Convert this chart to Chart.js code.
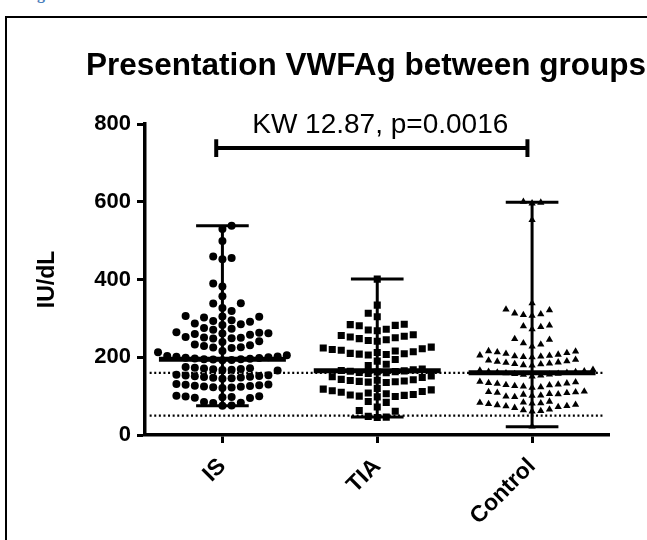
<!DOCTYPE html>
<html><head><meta charset="utf-8">
<script src="https://cdn.jsdelivr.net/npm/chart.js@4/dist/chart.umd.min.js"></script>
<style>
html,body{margin:0;padding:0;background:#fff;overflow:hidden}
#wrap{position:relative;width:647px;height:540px;overflow:hidden}
#frame{position:absolute;left:5px;top:16px;width:700px;height:600px;border:2px solid #000;box-sizing:border-box}
#cap{position:absolute;left:37px;top:-14px;font:bold 16px "Liberation Serif";color:#4a7ebb;line-height:16px}
canvas{position:absolute;left:0;top:0}
</style></head><body>
<div id="wrap"><div id="cap">g</div><div id="frame"></div><canvas id="c" width="647" height="540"></canvas></div>
<script>
const titleText = 'Presentation VWFAg between groups';
const yTitle = 'IU/dL';
const kwText = 'KW 12.87, p=0.0016';
const categories = ['IS', 'TIA', 'Control'];
const yTicks = [0, 200, 400, 600, 800];

const isValues = [538, 530, 499, 459, 455, 452, 390, 382, 357, 339, 338, 327, 319,
  306, 305, 304, 302, 295, 293, 291, 287, 285, 283, 275, 273, 271,
  264, 263, 262, 261, 260, 258, 252, 251, 250, 249, 248, 241, 239,
  233, 231, 229, 226, 225, 224, 216, 213,
  205, 203, 202, 201, 200, 199, 198, 197, 196, 195, 195, 194, 193, 192,
  175, 173, 172, 171, 170, 169, 168, 167, 166,
  155, 154, 153, 152, 151, 150, 149, 148, 147, 146, 145,
  131, 130, 129, 128, 127, 126, 125, 124, 123, 122, 121,
  101, 100, 99, 98, 97, 96, 95, 85, 83, 82, 76, 75];

const tiaValues = [401, 334, 313, 304, 285, 284, 282, 281, 272, 270, 268,
  258, 256, 254, 252, 250, 248, 245, 243, 241,
  226, 224, 222, 220, 218, 216, 214, 212, 210, 209, 208, 207, 206,
  194, 190, 182, 179,
  170, 168, 166, 165, 164, 163, 162, 161, 160, 158,
  152, 150, 148,
  143, 142, 141, 140, 139, 138, 137, 136, 135,
  120, 118, 116, 114, 112, 110, 108, 106, 104, 103, 102, 100, 99, 98,
  86, 84, 72, 63, 61, 48, 46, 45];

const controlValues = [600, 598, 596, 553, 339, 323, 321, 313, 311, 309, 307,
  282, 280, 278, 272, 247, 245, 236, 233, 228,
  216, 215, 213, 211, 209, 207, 205, 204, 203, 202, 201, 200,
  194, 192, 190, 189, 187, 186, 184, 183, 182, 180, 179,
  168, 166, 164, 163, 162, 161, 160, 159, 158, 157, 156, 155, 153, 151,
  137, 136, 134, 133, 132, 130, 129, 128, 126, 125, 123, 122,
  112, 111, 110, 109, 108, 106, 105, 104, 102, 101, 99, 98,
  86, 84, 83, 82, 81, 80, 78, 77, 75, 74, 72, 70,
  66, 64, 62, 61, 22];

const medians = [195, 165, 160];
const mins = [75, 46, 21];
const maxs = [538, 401, 599];
const refLines = [160, 50];
const bracketValue = 738;
const bracketEnd = 23;

const groups = [isValues, tiaValues, controlValues];
const pointStyles = ['circle', 'rect', 'triangle'];
const pointRadii = [4, 5, 4.2];
const FONT = '"Liberation Sans", Arial, sans-serif';

const datasets = [];
const lineDs = (data, width, dash) => ({
  type: 'scatter', data, showLine: true, pointRadius: 0, borderColor: '#000',
  backgroundColor: '#000', borderWidth: width, borderDash: dash || [], borderCapStyle: 'butt',
  borderJoinStyle: 'miter', tension: 0, order: 0
});
groups.forEach((g, i) => {
  datasets.push(lineDs([{x: i - 0.41, y: medians[i]}, {x: i + 0.41, y: medians[i]}], 5));
  datasets.push(lineDs([{x: i, y: mins[i]}, {x: i, y: maxs[i]}], 3));
  datasets.push(lineDs([{x: i - 0.17, y: maxs[i]}, {x: i + 0.17, y: maxs[i]}], 3));
  datasets.push(lineDs([{x: i - 0.17, y: mins[i]}, {x: i + 0.17, y: mins[i]}], 3));
});
refLines.forEach(v => datasets.push(lineDs([{x: -0.47, y: v}, {x: 2.47, y: v}], 2.2, [2, 2.6])));
datasets.push(lineDs([
  {x: -0.04, y: bracketValue + bracketEnd}, {x: -0.04, y: bracketValue - bracketEnd},
  {x: -0.04, y: bracketValue}, {x: 1.97, y: bracketValue},
  {x: 1.97, y: bracketValue + bracketEnd}, {x: 1.97, y: bracketValue - bracketEnd}], 4));
const pointStart = datasets.length;
groups.forEach((g, i) => {
  datasets.push({
    type: 'scatter', data: g.map(v => ({x: i, y: v})),
    pointStyle: pointStyles[i], pointRadius: pointRadii[i], pointBackgroundColor: '#000',
    pointBorderColor: '#000', pointBorderWidth: 0, order: 1
  });
});

const textPlugin = {
  id: 'texts',
  afterDraw(chart) {
    const ctx = chart.ctx, xs = chart.scales.x, ys = chart.scales.y;
    ctx.save();
    ctx.fillStyle = '#000';
    ctx.textAlign = 'center';
    ctx.textBaseline = 'alphabetic';
    ctx.font = 'bold 31.5px ' + FONT;
    ctx.fillText(titleText, 366, 75);
    ctx.font = '28px ' + FONT;
    ctx.fillText(kwText, xs.getPixelForValue(1) + 3, ys.getPixelForValue(bracketValue) - 15);
    ctx.restore();
  }
};

const axisCommon = {
  border: {display: true, color: '#000', width: 3.5},
  grid: {display: true, drawOnChartArea: false, drawTicks: true, tickLength: 8, tickWidth: 3, tickColor: '#000', color: '#000'}
};

const chart = new Chart(document.getElementById('c'), {
  type: 'scatter',
  data: {datasets},
  plugins: [textPlugin],
  options: {
    responsive: false, animation: false, devicePixelRatio: 1,
    layout: {padding: {top: 124, right: 37.5, left: 0, bottom: 0}},
    plugins: {legend: {display: false}, tooltip: {enabled: false}, title: {display: false}},
    scales: {
      x: Object.assign({}, axisCommon, {
        type: 'linear', min: -0.5, max: 2.5,
        afterBuildTicks: s => { s.ticks = categories.map((c, i) => ({value: i})); },
        afterFit: s => { s.height = 105; },
        ticks: {autoSkip: false, minRotation: 45, maxRotation: 45, padding: 10, color: '#000',
          font: {family: FONT, size: 23, weight: 'bold'}, callback: v => categories[v]}
      }),
      y: Object.assign({}, axisCommon, {
        min: 0, max: 800,
        afterBuildTicks: s => { s.ticks = yTicks.map(v => ({value: v})); },
        afterFit: s => { s.width = 145; },
        ticks: {padding: 6, color: '#000', font: {family: FONT, size: 22, weight: 'bold'}},
        title: {display: true, text: yTitle, color: '#000', font: {family: FONT, size: 23, weight: 'bold'}, padding: {top: 34, bottom: 0}}
      })
    }
  }
});

// beeswarm layout: each value goes to the most central free column slot,
// computed from the values through the chart's own scales
const spacingPx = [9.2, 9, 8.7];
const minDyPx = [8.5, 8, 7.5];
function beeswarm() {
  const xs = chart.scales.x, ys = chart.scales.y;
  const unit = xs.getPixelForValue(1) - xs.getPixelForValue(0);
  groups.forEach((vals, gi) => {
    const sorted = vals.slice().sort((a, b) => a - b);
    const cols = new Map();
    const pts = [];
    let flip = 1;
    sorted.forEach(v => {
      const py = ys.getPixelForValue(v);
      for (let k = 0; k < 60; k++) {
        const s = k === 0 ? 0 : (k % 2 ? 1 : -1) * Math.ceil(k / 2) * flip;
        const col = cols.get(s) || [];
        if (col.every(q => Math.abs(q - py) >= minDyPx[gi])) {
          col.push(py); cols.set(s, col);
          pts.push({x: gi + s * spacingPx[gi] / unit, y: v});
          if (s !== 0) flip = -flip;
          break;
        }
      }
    });
    chart.data.datasets[pointStart + gi].data = pts;
  });
  chart.update('none');
}
beeswarm();
</script>
</body></html>
